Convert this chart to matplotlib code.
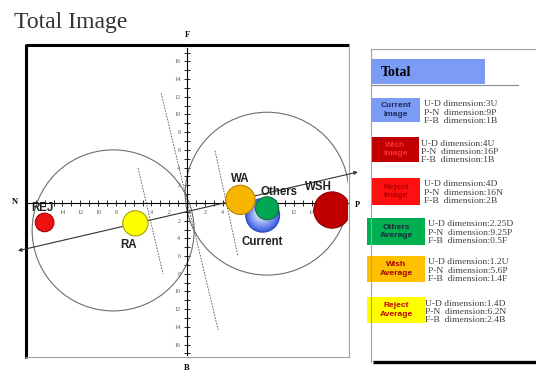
import matplotlib

matplotlib.use("Agg")
import matplotlib.pyplot as plt
from matplotlib.patches import Circle, Rectangle
from matplotlib.ticker import MultipleLocator, FuncFormatter
import numpy as np

plt.rcParams["font.family"] = ["Liberation Serif", "DejaVu Serif"]

# --- data: image positions on the P-N (x) / F-B (y) plane ------------------
names = ["Current", "Others", "WA", "WSH", "REJ", "RA"]
pn_pos = [8.5, 9.0, 6.0, 16.3, -16.0, -5.8]      # + is P, - is N
fb_pos = [-1.4, -0.6, 0.35, -0.8, -2.2, -2.3]    # + is F, - is B
sizes = [1.9, 1.3, 1.65, 2.05, 1.05, 1.42]       # bubble radius
face = ["#3d62e4", "#00a651", "#f7b500", "#c00000", "#ee1111", "#ffff00"]
edge = ["#2a48b8", "#176b3a", "#b88400", "#8c0000", "#a00000", "#a8a000"]
label_x = [8.5, 10.3, 6.0, 14.8, -16.2, -6.6]
label_y = [-4.4, 1.2, 2.7, 1.75, -0.6, -4.8]

# big grouping circles
zone_x = [-8.3, 9.0]
zone_y = [-3.1, 1.05]
zone_r = [9.1, 9.2]

# main direction (double arrow) and dashed projection lines
trend_x = [-19.0, 19.2]
trend_y = [-5.4, 3.5]
proj_x = [[-2.9, 3.5], [-5.5, -2.7], [3.15, 5.7]]
proj_y = [[12.4, -14.35], [3.95, -8.0], [5.9, -5.9]]

# --- data: legend panel -----------------------------------------------------
legend_titles = ["Current\nImage", "Wish\nImage", "Reject\nImage",
                 "Others\nAverage", "Wish\nAverage", "Reject\nAverage"]
legend_face = ["#7b9bf5", "#c00000", "#ff1010", "#00b050", "#ffc000", "#ffff00"]
legend_ink = ["#1c2a5c", "#ff3030", "#b00000", "#1c2a3c", "#a00000", "#c00000"]
ud_dim = ["3U", "4U", "4D", "2.25D", "1.2U", "1.4D"]
pn_dim = ["9P", "16P", "16N", "9.25P", "5.6P", "6.2N"]
fb_dim = ["1B", "1B", "2B", "0.5F", "1.4F", "2.4B"]

W, H = 536, 371
fig = plt.figure(figsize=(W / 100, H / 100), dpi=100)

# background layer in pixel coordinates (title, frames, legend panel)
bg = fig.add_axes([0, 0, 1, 1])
bg.set_xlim(0, W)
bg.set_ylim(H, 0)
bg.axis("off")

bg.text(14, 28, "Total Image", fontsize=17, color="#333333", va="baseline")

# frame of the map: thick black top/left, thin gray right/bottom
bg.plot([26, 349], [45, 45], color="black", lw=2.2, solid_capstyle="butt")
bg.plot([26, 26], [44, 358], color="black", lw=2.2, solid_capstyle="butt")
bg.plot([349, 349], [45, 357], color="#a0a0a0", lw=0.8)
bg.plot([26, 349], [357, 357], color="#a0a0a0", lw=0.8)

# legend panel
bg.plot([371, 371], [49, 362], color="#a0a0a0", lw=0.8)
bg.plot([371, W], [49, 49], color="#a0a0a0", lw=0.8)
bg.plot([373, W], [362, 362], color="black", lw=2.4, solid_capstyle="butt")
bg.add_patch(Rectangle((371, 59), 114, 25, color="#7b9bf5", lw=0))
bg.plot([371, 518], [84.5, 84.5], color="#8a8a8a", lw=0.8)
bg.text(381, 73, "Total", fontsize=10, fontweight="bold", va="center")

box_left = [372, 372, 372, 367, 367, 367]
box_right = [420, 419, 420, 425, 425, 425]
box_top = [98, 137, 178, 218, 256, 297]
box_h = [24, 25, 27, 27, 26, 26]
text_x = [424, 421, 424, 428, 428, 425]
for i, title in enumerate(legend_titles):
    x0, x1, y0, h = box_left[i], box_right[i], box_top[i], box_h[i]
    bg.add_patch(Rectangle((x0, y0), x1 - x0, h, color=legend_face[i], lw=0))
    bg.text((x0 + x1) / 2, y0 + h / 2, title, family="Liberation Sans",
            fontsize=6, fontweight="bold", color=legend_ink[i],
            ha="center", va="center", linespacing=1.25)
    lines = [f"U-D dimension:{ud_dim[i]}",
             f"P-N  dimension:{pn_dim[i]}",
             f"F-B  dimension:{fb_dim[i]}"]
    for k, s in enumerate(lines):
        bg.text(text_x[i], y0 + 6.5 + k * 8.2, s, fontsize=6.8,
                color="#404040", va="center")

# --- main map ---------------------------------------------------------------
ax = fig.add_axes([27 / W, 1 - 355 / H, (348 - 27) / W, (355 - 48) / H])
ax.patch.set_visible(False)
ax.set_xlim(-17.98, 18.09)
ax.set_ylim(-17.18, 17.51)

for s in ["top", "right"]:
    ax.spines[s].set_visible(False)
for s in ["left", "bottom"]:
    ax.spines[s].set_position(("data", 0))
    ax.spines[s].set_linewidth(0.8)


def tick_fmt(v, p, hidden=()):
    if abs(v) < 0.5 or abs(v) > 16.5 or round(v) in hidden:
        return ""
    return f"{abs(v):.0f}"


for axis, hidden in ((ax.xaxis, (-16,)), (ax.yaxis, ())):
    axis.set_major_locator(MultipleLocator(2))
    axis.set_minor_locator(MultipleLocator(1))
    axis.set_major_formatter(FuncFormatter(
        lambda v, p, h=hidden: tick_fmt(v, p, h)))
ax.tick_params(which="both", direction="inout", length=4.5, width=0.6)
ax.tick_params(labelsize=4.3, labelcolor="#555555", pad=2.6)

ax.text(0, 19.0, "F", ha="center", va="center", fontsize=6,
        fontweight="bold", clip_on=False)
ax.text(0, -18.6, "B", ha="center", va="center", fontsize=6,
        fontweight="bold", clip_on=False)
ax.text(-19.3, 0.1, "N", ha="center", va="center", fontsize=6,
        fontweight="bold", clip_on=False)
ax.text(19.2, -0.2, "P", ha="center", va="center", fontsize=6,
        fontweight="bold", clip_on=False)

for cx, cy, r in zip(zone_x, zone_y, zone_r):
    ax.add_patch(Circle((cx, cy), r, fill=False, ec="#6e6e6e", lw=0.8,
                        zorder=2))

for xs, ys in zip(proj_x, proj_y):
    ax.plot(xs, ys, color="#555555", lw=0.6, ls=(0, (2, 1.5)), zorder=2)

ax.annotate("", xy=(trend_x[1], trend_y[1]), xytext=(trend_x[0], trend_y[0]),
            arrowprops=dict(arrowstyle="<|-|>", color="#333333", lw=0.8,
                            mutation_scale=5, shrinkA=0, shrinkB=0),
            annotation_clip=False, zorder=3)

for i, name in enumerate(names):
    x, y, r = pn_pos[i], fb_pos[i], sizes[i]
    ax.add_patch(Circle((x, y), r, fc=face[i], ec=edge[i], lw=0.8, zorder=4))
    if name == "Current":
        # soft highlight to imitate the gradient fill
        base = np.array(matplotlib.colors.to_rgb(face[i]))
        for f in np.linspace(0.9, 0.25, 8):
            mix = base + (1 - base) * (1 - f) * 1.1
            ax.add_patch(Circle((x - 0.25 * (1 - f), y + 0.25 * (1 - f)),
                                r * f, fc=np.clip(mix, 0, 1), lw=0, zorder=4))
    ax.text(label_x[i], label_y[i], name, family="Liberation Sans",
            fontsize=8.3, fontweight="bold", color="#222222",
            ha="center", va="center", zorder=6)

fig.savefig("out.png", dpi=100)
